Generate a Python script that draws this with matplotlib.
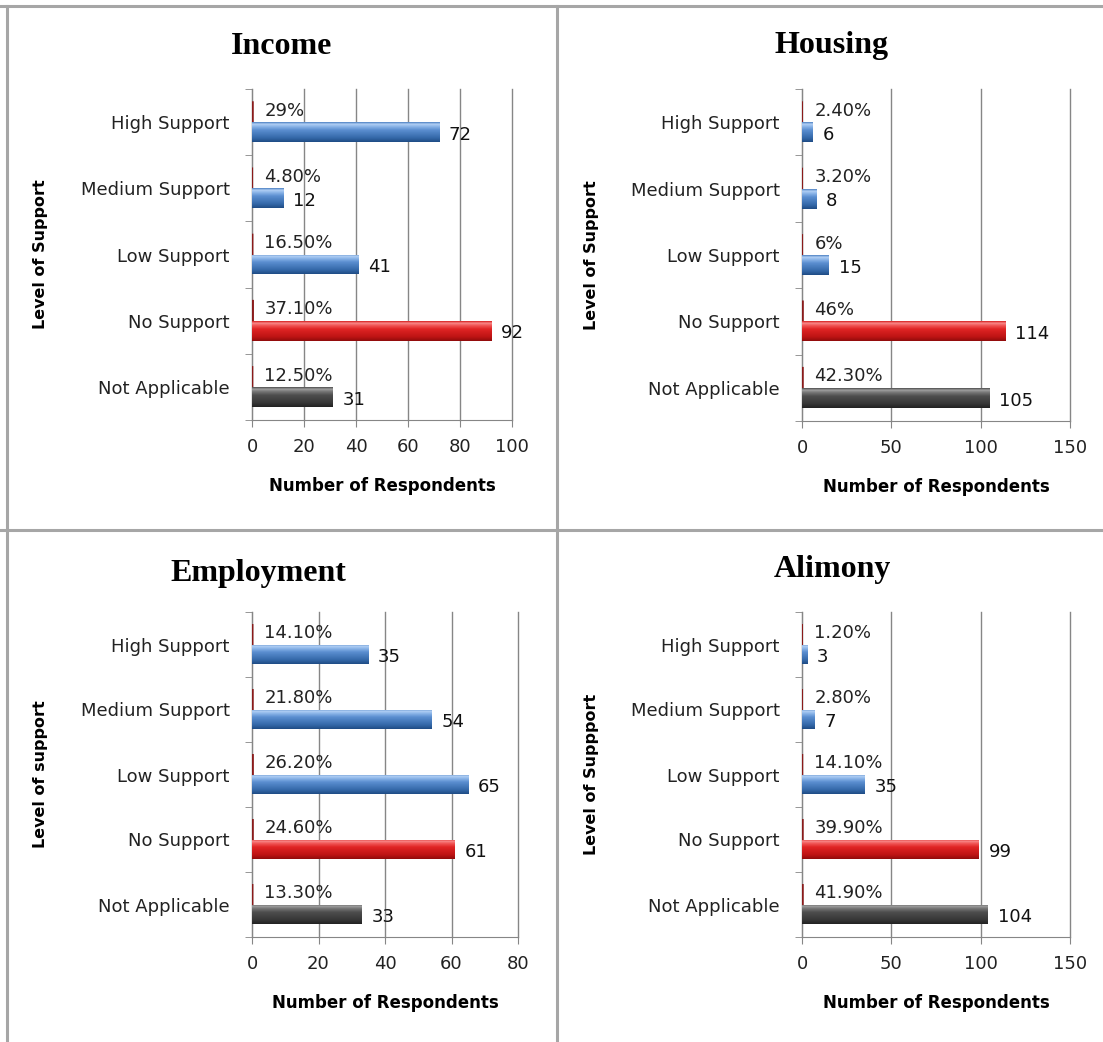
import numpy as np
import matplotlib
matplotlib.use('Agg')
import matplotlib.pyplot as plt
from matplotlib.colors import LinearSegmentedColormap
from matplotlib.lines import Line2D

categories = ['High Support', 'Medium Support', 'Low Support', 'No Support', 'Not Applicable']

income_counts = [72, 12, 41, 92, 31]
income_pct = ['29%', '4.80%', '16.50%', '37.10%', '12.50%']

housing_counts = [6, 8, 15, 114, 105]
housing_pct = ['2.40%', '3.20%', '6%', '46%', '42.30%']

employment_counts = [35, 54, 65, 61, 33]
employment_pct = ['14.10%', '21.80%', '26.20%', '24.60%', '13.30%']

alimony_counts = [3, 7, 35, 99, 104]
alimony_pct = ['1.20%', '2.80%', '14.10%', '39.90%', '41.90%']

W, H = 1103, 1042
fig = plt.figure(figsize=(W / 100, H / 100), dpi=100)

# gradient maps (bottom -> top) for the bevelled Excel look
blue = LinearSegmentedColormap.from_list('b', [(0, '#1f4c85'), (0.2, '#3468a8'), (0.6, '#5a8ed0'),
                                               (0.8, '#8fb8ea'), (0.9, '#b2d0f4'), (1, '#4f82c4')])
red = LinearSegmentedColormap.from_list('r', [(0, '#900c0c'), (0.2, '#bd1414'), (0.6, '#e02424'),
                                              (0.8, '#f25a5a'), (0.9, '#f88a8a'), (1, '#d82020')])
grey = LinearSegmentedColormap.from_list('g', [(0, '#222222'), (0.2, '#363636'), (0.6, '#4e4e4e'),
                                               (0.8, '#7a7a7a'), (0.9, '#a0a0a0'), (1, '#505050')])
cmaps = [blue, blue, blue, red, grey]
grad = np.linspace(0, 1, 64).reshape(-1, 1)


def panel(rect, title, counts, pcts, xmax, step, ylabel, ylab_x, title_x, title_y):
    l, t, r, b = rect
    ax = fig.add_axes([l / W, 1 - b / H, (r - l) / W, (b - t) / H])
    n = len(categories)
    ypos = np.arange(n)[::-1]
    vals = [float(p.rstrip('%')) / 100 for p in pcts]
    h = 0.3
    pbars = ax.barh(ypos + h / 2, vals, height=h, color='#8b1a1a', edgecolor='#8b1a1a', lw=1.4, zorder=3)
    for pb in pbars:
        pb.set_snap(False)
    bars = ax.barh(ypos - h / 2, counts, height=h, color='none', zorder=3)
    for bar, cm in zip(bars, cmaps):
        x0, y0 = bar.get_x(), bar.get_y()
        im = ax.imshow(grad, extent=[x0, x0 + bar.get_width(), y0, y0 + bar.get_height()],
                       origin='lower', aspect='auto', cmap=cm, zorder=3)
        im.set_clip_path(bar)
    for y, c, p in zip(ypos, counts, pcts):
        ax.annotate(str(c), (c, y - h / 2), xytext=(7, -2), textcoords='offset points',
                    va='center', ha='left', fontsize=13, color='#111111')
        ax.annotate(p, (0, y + h / 2), xytext=(9, 1), textcoords='offset points',
                    va='center', ha='left', fontsize=13, color='#222222')
    ax.set_xlim(0, xmax)
    ax.set_ylim(-0.5, n - 0.5)
    ax.set_xticks(np.arange(0, xmax + 1, step))
    ax.set_yticks(ypos)
    ax.set_yticklabels(categories)
    ax.set_yticks(np.arange(-0.5, n, 1), minor=True)
    ax.tick_params(axis='y', which='major', length=0, pad=16, labelsize=13, labelcolor='#222222')
    ax.tick_params(axis='y', which='minor', length=5, color='#868686')
    ax.tick_params(axis='x', length=5, color='#868686', labelsize=13, pad=8, labelcolor='#222222')
    ax.grid(axis='x', color='#868686', lw=1, zorder=0)
    for gl in ax.get_xgridlines():
        gl.set_clip_on(False)
    ax.set_axisbelow(True)
    for s in ['top', 'right']:
        ax.spines[s].set_visible(False)
    for s in ['left', 'bottom']:
        ax.spines[s].set_color('#868686')
    ax.set_xlabel('Number of Respondents', fontsize=12, fontweight='bold', labelpad=15)
    ax.set_ylabel(ylabel, fontsize=11.5, fontweight='bold')
    ax.yaxis.set_label_coords((ylab_x - l) / (r - l), 0.5)
    fig.text(title_x / W, 1 - title_y / H, title, ha='center', va='center',
             family='Liberation Serif', fontsize=23, fontweight='bold')
    return ax


panel((252, 89, 512, 420), 'Income', income_counts, income_pct, 100, 20, 'Level of Support', 48, 282, 46)
panel((802, 89, 1070, 421), 'Housing', housing_counts, housing_pct, 150, 50, 'Level of Support', 599, 832, 46)
panel((252, 612, 518, 937), 'Employment', employment_counts, employment_pct, 80, 20, 'Level of support', 48, 258, 573)
panel((802, 612, 1070, 937), 'Alimony', alimony_counts, alimony_pct, 150, 50, 'Level of Suppport', 599, 832, 569)

# panel frame lines
fc = '#a6a6a6'
fig.add_artist(Line2D([0, 1], [1 - 6 / H] * 2, color=fc, lw=2.2))
fig.add_artist(Line2D([0, 1], [1 - 530 / H] * 2, color=fc, lw=2.2))
fig.add_artist(Line2D([7 / W] * 2, [0, 1 - 6 / H], color=fc, lw=2.2))
fig.add_artist(Line2D([557 / W] * 2, [0, 1 - 6 / H], color=fc, lw=2.2))

fig.savefig('out.png', dpi=100)
